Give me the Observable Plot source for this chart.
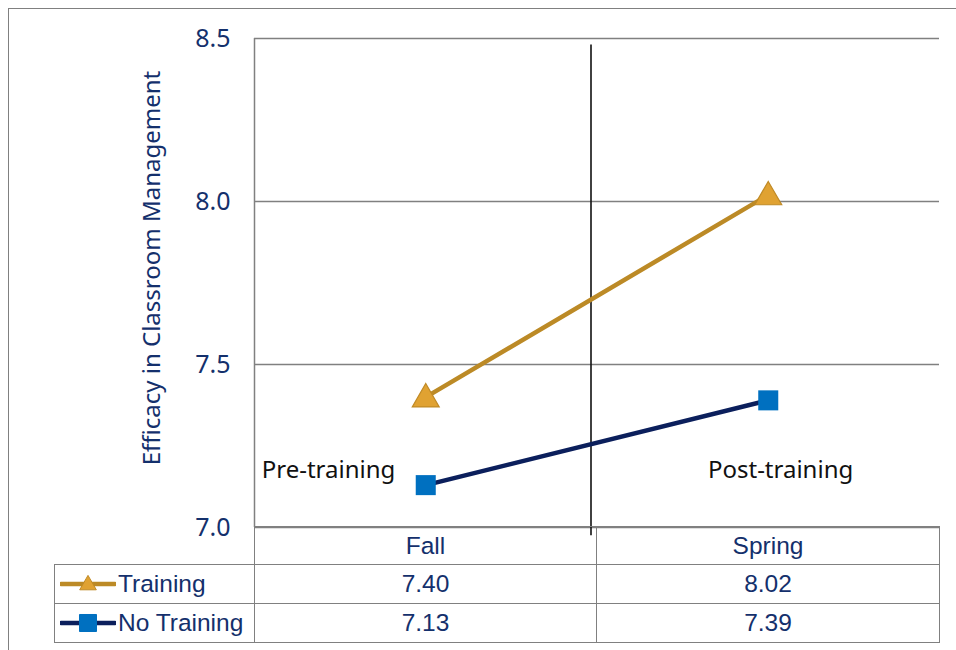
<!DOCTYPE html>
<html><head><meta charset="utf-8">
<script src="https://cdn.jsdelivr.net/npm/d3@7"></script>
<script src="https://cdn.jsdelivr.net/npm/@observablehq/plot@0.6"></script>
<style>
body{margin:0;background:#fff;}
#wrap{position:relative;width:956px;height:650px;overflow:hidden;font-family:"Liberation Sans",Arial,sans-serif;background:#fff;}
#frame{position:absolute;left:8px;top:8px;width:1000px;height:700px;border-left:1.5px solid #808080;border-top:1.5px solid #808080;}
#chart{position:absolute;left:0;top:0;}
#tbl{position:absolute;left:54px;top:526px;border-collapse:collapse;table-layout:fixed;color:#14306c;font-size:24.5px;}
#tbl td{border:1.5px solid #808080;padding:0;text-align:center;vertical-align:middle;height:37px;}
#tbl tr.data td{height:38px;}
#tbl td.blank{border-top:none;border-left:none;}
#tbl td.key{text-align:left;white-space:nowrap;}
#tbl td.key svg{vertical-align:middle;margin-left:5px;margin-right:2px;position:relative;top:-2px;}
</style></head>
<body>
<div id="wrap">
  <div id="frame"></div>
  <div id="chart"></div>
  <table id="tbl"></table>
</div>
<script>
// ---- data ----
const categories = ["Fall", "Spring"];
const seriesNames = ["Training", "No Training"];
const training = [7.40, 8.02];
const noTraining = [7.13, 7.39];
const yTicks = [7.0, 7.5, 8.0, 8.5];
const yLabel = "Efficacy in Classroom Management";
const phaseLabels = ["Pre-training", "Post-training"];
const phaseX = [-0.284, 1.036];
const phaseY = [7.175, 7.175];
const dividerAt = [0.5];
const dividerSpan = [6.975, 8.48];

const colors = {line: ["#BC8A26", "#0B1F5C"], marker: ["#E0A232", "#0070C0"], markerStroke: ["#C08A26", "#0070C0"]};
const symbols = ["triangle", "square"];
const textColor = "#14306c";

const values = [training, noTraining];
const rows = [];
seriesNames.forEach((s, si) => categories.forEach((c, ci) => rows.push({series: s, period: c, index: ci, value: values[si][ci]})));
const phases = phaseLabels.map((t, i) => ({text: t, x: phaseX[i], y: phaseY[i]}));

const chart = Plot.plot({
  width: 956, height: 535,
  marginLeft: 254, marginRight: 17, marginTop: 38, marginBottom: 8,
  style: {background: "transparent", overflow: "visible"},
  x: {domain: [-0.5, categories.length - 0.5], axis: null},
  y: {domain: [yTicks[0], yTicks[yTicks.length - 1]], axis: null},
  color: {domain: seriesNames, range: colors.line},
  marks: [
    Plot.ruleY(yTicks, {stroke: "#808080", strokeWidth: 1.5}),
    Plot.ruleX([-0.5], {stroke: "#808080", strokeWidth: 1.5}),
    Plot.axisY({ticks: yTicks, tickFormat: d3.format(".1f"), tickSize: 0, tickPadding: 24, fontSize: 25, fill: textColor, label: null}),
    Plot.text([yLabel], {frameAnchor: "left", textAnchor: "middle", rotate: -90, dx: -102, dy: -15, fontSize: 24, fill: textColor}),
    Plot.ruleX(dividerAt, {y1: dividerSpan[0], y2: dividerSpan[1], dx: -6, stroke: "#111", strokeWidth: 1.6}),
    Plot.line(rows, {x: "index", y: "value", z: "series", stroke: "series", strokeWidth: 4.5}),
    Plot.dot(rows.filter(d => d.series === seriesNames[0]), {x: "index", y: "value", symbol: () => symbols[0], r: 10, dy: 2, fill: colors.marker[0], stroke: colors.markerStroke[0], strokeWidth: 1.2}),
    Plot.dot(rows.filter(d => d.series === seriesNames[1]), {x: "index", y: "value", symbol: () => symbols[1], r: 11.3, fill: colors.marker[1], stroke: "none"}),
    Plot.text(phases, {x: "x", y: "y", text: "text", fontSize: 24, fill: "#111"})
  ]
});
document.getElementById("chart").appendChild(chart);

// ---- data table below the chart ----
const tbl = d3.select("#tbl");
const cg = tbl.append("colgroup");
[200, 342, 343].forEach(w => cg.append("col").style("width", w + "px"));
tbl.style("width", "885px");
const head = tbl.append("tr");
head.append("td").attr("class", "blank");
categories.forEach(c => head.append("td").text(c));
seriesNames.forEach((s, si) => {
  const tr = tbl.append("tr").attr("class", "data");
  const td = tr.append("td").attr("class", "key");
  const svg = td.append("svg").attr("width", 56).attr("height", 20);
  svg.append("line").attr("x1", 1).attr("x2", 55).attr("y1", 10).attr("y2", 10)
    .attr("stroke", colors.line[si]).attr("stroke-width", 4.5).attr("stroke-linecap", "round");
  const sym = d3.symbol(symbols[si] === "triangle" ? d3.symbolTriangle : d3.symbolSquare, si === 0 ? 120 : 290);
  svg.append("path").attr("d", sym()).attr("transform", `translate(28,${si === 0 ? 11 : 10})`)
    .attr("fill", colors.marker[si]).attr("stroke", colors.markerStroke[si]).attr("stroke-width", 1);
  td.append("span").text(s);
  values[si].forEach(v => tr.append("td").text(d3.format(".2f")(v)));
});
</script>
</body></html>
